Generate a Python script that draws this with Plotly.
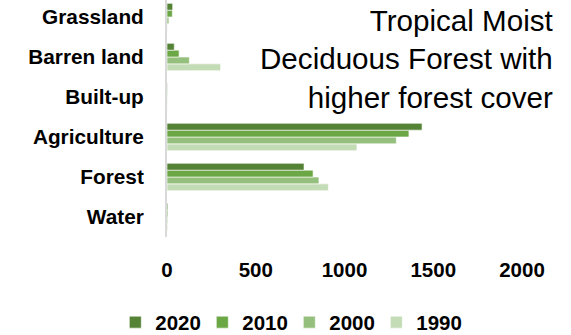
import plotly.graph_objects as go

categories = ["Water", "Forest", "Agriculture", "Built-up", "Barren land", "Grassland"]
years = ["1990", "2000", "2010", "2020"]
v1990 = [4, 909, 1070, 1, 302, 2]
v2000 = [4, 856, 1292, 1, 126, 11]
v2010 = [5, 823, 1363, 2, 68, 30]
v2020 = [5, 772, 1437, 2, 41, 32]
colors = {"1990": "#c3dcb5", "2000": "#95bf7c", "2010": "#6ba745", "2020": "#558336"}
xticks = [0, 500, 1000, 1500, 2000]
title_lines = ["Tropical Moist", "Deciduous Forest with", "higher forest cover"]

series = {"1990": v1990, "2000": v2000, "2010": v2010, "2020": v2020}
rank = {"2020": 1, "2010": 2, "2000": 3, "1990": 4}

BOLD = "Liberation Sans"
fig = go.Figure()
for y in years:
    fig.add_trace(go.Bar(
        y=categories, x=series[y], name=y, orientation="h",
        marker=dict(color=colors[y], line=dict(color="white", width=0.6)),
        legendrank=rank[y],
    ))

fig.update_layout(
    width=571, height=335,
    margin=dict(l=167, r=49, t=0, b=98, autoexpand=False),
    paper_bgcolor="white", plot_bgcolor="white",
    barmode="group", bargap=0.315, bargroupgap=0,
    font=dict(family=BOLD, size=20, color="black"),
    showlegend=True,
    legend=dict(orientation="h", x=-0.14 - 2 / 355, xanchor="left", y=-0.36, yanchor="middle",
                font=dict(family=BOLD, size=20.5, color="black", weight="bold"),
                itemclick=False, tracegroupgap=0, entrywidth=42, entrywidthmode="pixels"),
    xaxis=dict(range=[0, 2000], tickvals=xticks, ticktext=[str(t) for t in xticks],
               showgrid=False, zeroline=False, showline=False, automargin=False,
               tickfont=dict(family=BOLD, size=20.5, color="black", weight="bold"),
               ticks="", ticklabelstandoff=18),
    yaxis=dict(range=[-0.5, 5.425], categoryorder="array", categoryarray=categories,
               showgrid=False, zeroline=False, showline=True, linecolor="#d9d9d9", linewidth=2,
               automargin=False,
               tickfont=dict(family=BOLD, size=20.8, color="black", weight="bold"),
               ticks="", ticklabelstandoff=17),
    annotations=[dict(
        text="<br>".join(title_lines), xref="paper", yref="paper",
        x=(555 - 167) / 355, y=1.0, yshift=-2, xanchor="right", yanchor="top", align="right",
        showarrow=False, font=dict(family="Liberation Sans", size=29.6, color="black"),
    )],
)

fig.write_html("out.html", config={"displayModeBar": False},
               post_script="document.body.style.margin='0';document.body.style.overflow='hidden';")
